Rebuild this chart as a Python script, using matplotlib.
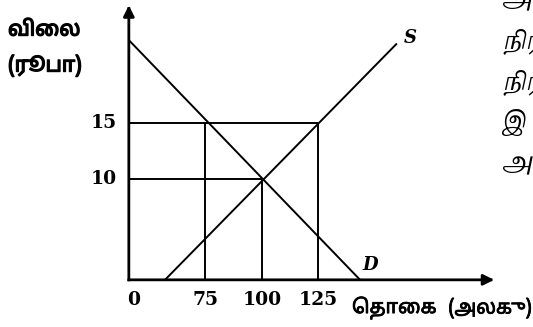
"""Supply and demand diagram: price (rupees) against quantity (units)."""

import matplotlib
matplotlib.use("Agg")
import matplotlib.pyplot as plt
import matplotlib.patheffects as pe

# Values (schematic axes, the origin is not at 0/0 on the scales)
price_ticks = [15, 10]
price_labels = ["15", "10"]
qty_ticks = [75, 100, 125]
qty_labels = ["75", "100", "125"]

# guide lines: (price, quantity it runs to)
h_guides_p = [15, 10]
h_guides_q = [125, 100]
# vertical guides: (quantity, price it runs up to)
v_guides_q = [75, 100, 125]
v_guides_p = [15, 10, 15]

# curve end points
demand_q = [41.1, 143.4]
demand_p = [22.4, 1.0]
supply_q = [57.1, 159.7]
supply_p = [1.0, 22.1]

# where the drawn axes sit / end on the scales
q_origin, p_origin = 41.1, 1.0
q_end, p_end = 202.7, 25.5

# matplotlib 3.10 does not shape Tamil, so vowel signs that sit to the left
# of a consonant are written in visual order.
y_title = ["\u0bb5\u0bbf\u0bc8\u0bb2", "(\u0bb0\u0bc2\u0baa\u0bbe)"]      # விலை, (ரூபா)
x_title = ["\u0bc6\u0ba4\u0bbe\u0bc8\u0b95",                              # தொகை
           "(\u0b85\u0bb2\u0b95\u2009\u0bc1)"]                            # (அலகு)
side_text = ["\u0b85", "\u0ba8\u0bbf\u0bb0\u0bcd", "\u0ba8\u0bbf\u0bb0", "\u0b87", "\u0b85"]

W, H = 533, 327
fig = plt.figure(figsize=(W / 100, H / 100), dpi=100)
ax = fig.add_axes([0, 0, 1, 1])
ax.set_xlim(-15.9, 219.9)
ax.set_ylim(-3.21, 25.98)
ax.axis("off")

# axes with arrow heads
arrow_kw = dict(arrowstyle="-|>", lw=2.0, color="black", mutation_scale=16,
                shrinkA=0, shrinkB=0, capstyle="projecting")
ax.annotate("", xy=(q_origin, p_end), xytext=(q_origin, p_origin), arrowprops=arrow_kw)
ax.annotate("", xy=(q_end, p_origin), xytext=(q_origin, p_origin), arrowprops=arrow_kw)

line_kw = dict(color="black", lw=1.4, solid_capstyle="butt")
for p, q in zip(h_guides_p, h_guides_q):
    ax.plot([q_origin, q], [p, p], **line_kw)
for q, p in zip(v_guides_q, v_guides_p):
    ax.plot([q, q], [p_origin, p], **line_kw)

ax.plot(demand_q, demand_p, **line_kw)
ax.plot(supply_q, supply_p, **line_kw)

num_font = dict(family="DejaVu Serif", fontweight="bold", fontsize=13.5)
for p, lab in zip(price_ticks, price_labels):
    ax.annotate(lab, xy=(q_origin, p), xytext=(-12, 0), textcoords="offset pixels",
                ha="right", va="center", **num_font)
ax.annotate("0", xy=(q_origin, p_origin), xytext=(5, -20), textcoords="offset pixels",
            ha="center", va="center", **num_font)
for q, lab in zip(qty_ticks, qty_labels):
    ax.annotate(lab, xy=(q, p_origin), xytext=(0, -20), textcoords="offset pixels",
                ha="center", va="center", **num_font)

curve_font = dict(family="DejaVu Serif", fontweight="bold", fontstyle="italic", fontsize=13)
ax.annotate("S", xy=(supply_q[1], supply_p[1]), xytext=(13, 5), textcoords="offset pixels",
            ha="center", va="center", **curve_font)
ax.annotate("D", xy=(demand_q[1], demand_p[1]), xytext=(10, 15), textcoords="offset pixels",
            ha="center", va="center", **curve_font)

# Tamil labels: regular face thickened with a stroke to look bold
tamil_fam = ["Noto Sans Tamil", "DejaVu Sans"]
bold_fx = [pe.withStroke(linewidth=1.0, foreground="black")]
semi_fx = [pe.withStroke(linewidth=0.6, foreground="black")]
fig.text(8 / W, 1 - 30 / H, y_title[0], ha="left", va="center",
         family=tamil_fam, fontsize=15, path_effects=bold_fx)
fig.text(8 / W, 1 - 65 / H, y_title[1], ha="left", va="center",
         family=tamil_fam, fontsize=15, path_effects=bold_fx)
fig.text(352 / W, 1 - 308 / H, x_title[0], ha="left", va="center",
         family=tamil_fam, fontsize=14, path_effects=semi_fx)
fig.text(532 / W, 1 - 308 / H, x_title[1], ha="right", va="center",
         family=tamil_fam, fontsize=14, path_effects=semi_fx)

# fragments of the neighbouring paragraph, cut by the right edge
for i, t in enumerate(side_text):
    fig.text(503 / W, 1 - (0 + 41 * i) / H, t, ha="left", va="center",
             family="Noto Serif Tamil", fontstyle="italic", fontsize=17)

fig.savefig("out.png", dpi=100)
